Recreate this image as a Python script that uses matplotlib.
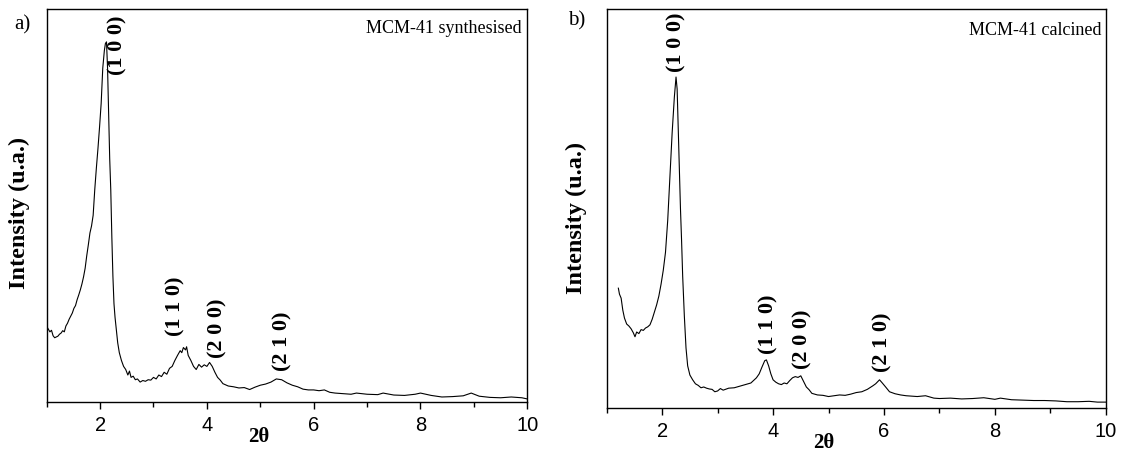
import matplotlib
matplotlib.use("Agg")
import matplotlib.pyplot as plt

# ---------------- data ----------------
two_theta_a = [1.00, 1.03, 1.06, 1.09, 1.12, 1.15, 1.18, 1.21, 1.24, 1.27, 1.30, 1.33, 1.36, 1.39,
               1.42, 1.45, 1.48, 1.51, 1.54, 1.57, 1.60, 1.63, 1.66, 1.69, 1.72, 1.75, 1.78, 1.81,
               1.84, 1.87, 1.90, 1.93, 1.96, 1.99, 2.02, 2.05, 2.08, 2.10, 2.12, 2.14, 2.16, 2.18,
               2.20, 2.22, 2.24, 2.26, 2.28, 2.30, 2.33, 2.36, 2.40, 2.44, 2.48, 2.52, 2.55, 2.58,
               2.62, 2.66, 2.70, 2.75, 2.80, 2.85, 2.90, 2.95, 3.00, 3.05, 3.10, 3.15, 3.20, 3.25,
               3.30, 3.35, 3.40, 3.45, 3.50, 3.53, 3.56, 3.60, 3.62, 3.65, 3.70, 3.75, 3.80, 3.85,
               3.90, 3.95, 4.00, 4.05, 4.10, 4.15, 4.20, 4.25, 4.30, 4.40, 4.50, 4.60, 4.70, 4.80,
               4.90, 5.00, 5.10, 5.20, 5.30, 5.40, 5.50, 5.60, 5.70, 5.80, 5.90, 6.00, 6.10, 6.20,
               6.30, 6.40, 6.50, 6.70, 6.80, 7.00, 7.20, 7.30, 7.50, 7.70, 7.90, 8.00, 8.20, 8.40,
               8.60, 8.80, 8.95, 9.10, 9.30, 9.50, 9.70, 9.90, 10.0]
intensity_a = [0.192, 0.185, 0.178, 0.182, 0.168, 0.163, 0.165, 0.167, 0.172, 0.175, 0.181, 0.178,
               0.193, 0.200, 0.210, 0.218, 0.226, 0.238, 0.245, 0.260, 0.272, 0.285, 0.300, 0.318,
               0.340, 0.372, 0.400, 0.430, 0.448, 0.475, 0.540, 0.595, 0.645, 0.700, 0.760, 0.850,
               0.895, 0.913, 0.917, 0.850, 0.740, 0.620, 0.540, 0.420, 0.320, 0.250, 0.215, 0.190,
               0.150, 0.125, 0.105, 0.090, 0.082, 0.068, 0.078, 0.062, 0.065, 0.056, 0.058, 0.050,
               0.054, 0.052, 0.056, 0.055, 0.062, 0.058, 0.068, 0.064, 0.075, 0.070, 0.085, 0.090,
               0.105, 0.118, 0.130, 0.125, 0.138, 0.132, 0.140, 0.118, 0.105, 0.090, 0.082, 0.095,
               0.088, 0.094, 0.090, 0.100, 0.090, 0.075, 0.062, 0.055, 0.046, 0.040, 0.038, 0.035,
               0.036, 0.031, 0.037, 0.042, 0.045, 0.050, 0.058, 0.056, 0.048, 0.042, 0.038, 0.032,
               0.030, 0.030, 0.028, 0.030, 0.024, 0.022, 0.021, 0.019, 0.022, 0.019, 0.018, 0.022,
               0.017, 0.016, 0.019, 0.022, 0.016, 0.012, 0.013, 0.015, 0.022, 0.014, 0.011, 0.010,
               0.012, 0.010, 0.007]

two_theta_b = [1.21, 1.23, 1.26, 1.29, 1.32, 1.36, 1.40, 1.44, 1.48, 1.51, 1.54, 1.58, 1.62, 1.66,
               1.70, 1.74, 1.78, 1.82, 1.86, 1.90, 1.94, 1.98, 2.02, 2.06, 2.10, 2.14, 2.18, 2.22,
               2.25, 2.27, 2.29, 2.31, 2.33, 2.35, 2.37, 2.40, 2.43, 2.46, 2.50, 2.55, 2.60, 2.65,
               2.70, 2.75, 2.80, 2.85, 2.90, 2.95, 3.00, 3.05, 3.10, 3.20, 3.30, 3.40, 3.50, 3.60,
               3.70, 3.75, 3.80, 3.85, 3.88, 3.92, 3.96, 4.00, 4.05, 4.10, 4.15, 4.20, 4.25, 4.30,
               4.35, 4.40, 4.45, 4.50, 4.55, 4.60, 4.65, 4.70, 4.80, 4.90, 5.00, 5.10, 5.20, 5.30,
               5.40, 5.50, 5.60, 5.70, 5.80, 5.85, 5.92, 5.97, 6.03, 6.10, 6.20, 6.30, 6.40, 6.50,
               6.60, 6.75, 6.90, 7.00, 7.20, 7.40, 7.60, 7.80, 8.00, 8.10, 8.30, 8.50, 8.70, 8.90,
               9.10, 9.30, 9.50, 9.70, 9.85, 10.0]
intensity_b = [0.300, 0.285, 0.275, 0.245, 0.225, 0.210, 0.205, 0.198, 0.188, 0.178, 0.190, 0.186,
               0.196, 0.194, 0.200, 0.203, 0.208, 0.222, 0.240, 0.258, 0.280, 0.310, 0.345, 0.390,
               0.470, 0.580, 0.690, 0.780, 0.830, 0.800, 0.700, 0.600, 0.500, 0.420, 0.330, 0.230,
               0.150, 0.105, 0.082, 0.070, 0.060, 0.056, 0.050, 0.052, 0.049, 0.047, 0.046, 0.040,
               0.042, 0.048, 0.044, 0.049, 0.050, 0.054, 0.058, 0.062, 0.075, 0.085, 0.102, 0.118,
               0.120, 0.105, 0.085, 0.070, 0.064, 0.060, 0.058, 0.062, 0.060, 0.068, 0.075, 0.078,
               0.076, 0.080, 0.066, 0.052, 0.045, 0.036, 0.032, 0.031, 0.028, 0.030, 0.032, 0.031,
               0.034, 0.038, 0.040, 0.046, 0.055, 0.060, 0.070, 0.062, 0.052, 0.040, 0.035, 0.032,
               0.030, 0.029, 0.028, 0.030, 0.024, 0.023, 0.024, 0.022, 0.023, 0.025, 0.021, 0.024,
               0.020, 0.019, 0.018, 0.018, 0.017, 0.015, 0.015, 0.016, 0.014, 0.014]

peak_labels = ["(1 0 0)", "(1 1 0)", "(2 0 0)", "(2 1 0)"]
label_x_a = [2.335, 3.42, 4.20, 5.425]
label_y_a = [0.909, 0.244, 0.188, 0.155]
label_x_b = [2.264, 3.926, 4.534, 5.97]
label_y_b = [0.918, 0.210, 0.172, 0.165]

xticks = [2, 4, 6, 8, 10]
minor_ticks = [1, 3, 5, 7, 9]

panels = [
    dict(x=two_theta_a, y=intensity_a, xlim=(1.0, 10.0), lx=label_x_a, ly=label_y_a,
         title="MCM-41 synthesised", tag="a)",
         rect=[0.0415, 0.1152, 0.4272, 0.8643],
         xl=(0.442, -0.090), yl=(-0.056, 0.481), tpos=(0.988, 0.952), tagpos=(22, 25)),
    dict(x=two_theta_b, y=intensity_b, xlim=(1.207, 10.0), lx=label_x_b, ly=label_y_b,
         title="MCM-41 calcined", tag="b)",
         rect=[0.5393, 0.1020, 0.4436, 0.8775],
         xl=(0.4355, -0.0876), yl=(-0.0615, 0.476), tpos=(0.9916, 0.948), tagpos=(577, 21)),
]

serif = "Liberation Serif"
sans = "Liberation Sans"

fig = plt.figure(figsize=(11.25, 4.54), dpi=100)

for p in panels:
    ax = fig.add_axes(p["rect"])
    ax.plot(p["x"], p["y"], color="black", lw=0.8)
    ax.set_xlim(*p["xlim"])
    ax.set_ylim(0, 1)
    ax.set_yticks([])
    ax.set_xticks(xticks)
    ax.set_xticks(minor_ticks, minor=True)
    ax.tick_params(axis="x", which="major", direction="out", length=5, width=1.0,
                   pad=5, labelsize=14.5)
    ax.tick_params(axis="x", which="minor", direction="out", length=3.5, width=1.0)
    for lab in ax.get_xticklabels():
        lab.set_fontfamily(sans)
    for s in ax.spines.values():
        s.set_linewidth(1.0)
    ax.set_xlabel("2θ", fontfamily=serif, fontweight="bold", fontsize=15)
    ax.xaxis.set_label_coords(*p["xl"])
    ax.xaxis.label.set_va("center")
    ax.set_ylabel("Intensity (u.a.)", fontfamily=serif, fontweight="bold", fontsize=17.5)
    ax.yaxis.set_label_coords(*p["yl"])
    ax.yaxis.label.set_va("center")
    ax.text(p["tpos"][0], p["tpos"][1], p["title"], transform=ax.transAxes,
            ha="right", va="center", fontfamily=serif, fontsize=13)
    for lbl, lx, ly in zip(peak_labels, p["lx"], p["ly"]):
        ax.text(lx, ly, lbl, rotation=90, ha="center", va="center",
                fontfamily=serif, fontweight="bold", fontsize=16)
    fig.text(p["tagpos"][0] / 1125, 1 - p["tagpos"][1] / 454, p["tag"],
             ha="center", va="center", fontfamily=serif, fontsize=15)

fig.savefig("out.png", dpi=100)
